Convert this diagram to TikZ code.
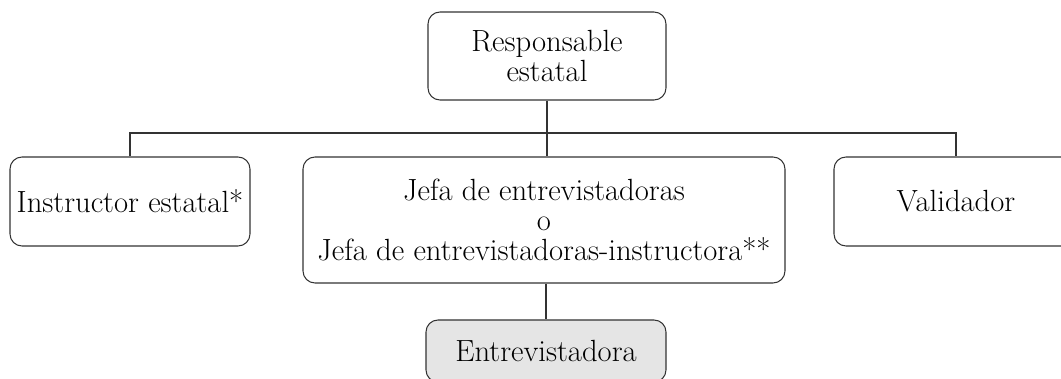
\documentclass[tikz,border=0pt]{standalone}
\usepackage{tikz}
\usetikzlibrary{positioning}

\begin{document}
\begin{tikzpicture}[x=0.025cm, y=-0.025cm,
    font=\fontsize{21.8}{21.5}\selectfont,
    box/.style={draw=black!80, line width=0.75pt, rounded corners=0.3cm, align=center, inner sep=0pt},
    link/.style={draw=black!80, line width=0.75pt}]
    \useasboundingbox (0,0) rectangle (1061,379);
    % top level
    \node[box, minimum width=238*0.025cm, minimum height=88*0.025cm] (resp) at (547,56) {Responsable\\estatal};
    % second level: three boxes hanging from one bus
    \node[box, minimum width=240*0.025cm, minimum height=89*0.025cm] (instr) at (130,201.5) {Instructor estatal*};
    \node[box, minimum width=482*0.025cm, minimum height=126*0.025cm] (jefa) at (544,220) {Jefa de entrevistadoras\\o\\Jefa de entrevistadoras-instructora**};
    \node[box, minimum width=244*0.025cm, minimum height=89*0.025cm] (valid) at (956,201.5) {Validador};
    % third level
    \node[box, fill=black!10, minimum width=240*0.025cm, minimum height=62*0.025cm] (entrev) at (546,351) {Entrevistadora};
    \coordinate (bus) at (0,133);
    \draw[link] (instr.north) -- (instr.north |- bus) -- (valid.north |- bus) -- (valid.north);
    \draw[link] (resp.south) -- (resp.south |- jefa.north);
    \draw[link] (jefa.south -| entrev.north) -- (entrev.north);
\end{tikzpicture}
\end{document}
